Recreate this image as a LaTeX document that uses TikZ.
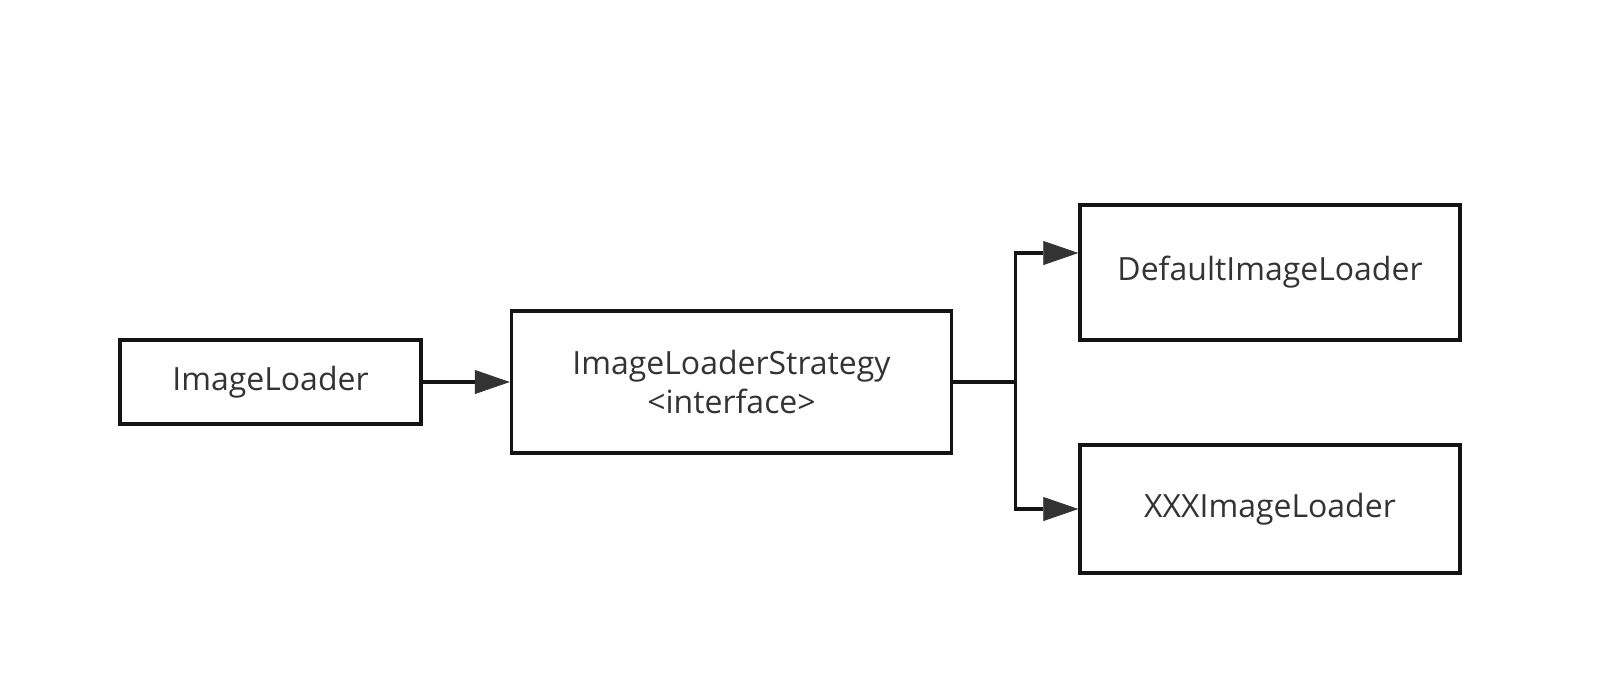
\documentclass[tikz,border=0pt]{standalone}
\usepackage{fontspec}
\setmainfont{Open Sans}
\usetikzlibrary{positioning,arrows.meta}
\definecolor{boxline}{HTML}{141414}
\definecolor{tipgray}{HTML}{333333}
\definecolor{labelgray}{HTML}{333333}

\begin{document}
\begin{tikzpicture}[every node/.style={rectangle, draw=boxline, line width=2pt, inner sep=0pt,
                        text=labelgray, align=center, font=\fontsize{18.2}{22}\selectfont},
                      link/.style={draw=boxline, line width=2pt,
                        -{Triangle[length=7mm, width=4.8mm, color=tipgray, line width=0.4pt]}}]
    \useasboundingbox (0,0) rectangle (32,-13.76);
    \node (loader)[minimum width=6.02cm, minimum height=1.68cm] at (5.41,-7.64) {ImageLoader};
    \node (strat)[right=1.74cm of loader, minimum width=8.8cm, minimum height=2.84cm] {ImageLoaderStrategy\\<interface>};
    \node (dflt)[right=2.5cm of strat, yshift=2.19cm, minimum width=7.6cm, minimum height=2.7cm] {DefaultImageLoader};
    \node (xxx)[right=2.5cm of strat, yshift=-2.54cm, minimum width=7.6cm, minimum height=2.56cm] {XXXImageLoader};
    \coordinate[right=1.24cm of strat] (split);
    \draw[link] (loader) -- (strat);
    \draw[draw=boxline, line width=2.4pt] (strat) -- (split);
    \draw[link] (split) |- ([yshift=0.39cm]dflt.west);
    \draw[link] (split) |- (xxx);
  \end{tikzpicture}
\end{document}
